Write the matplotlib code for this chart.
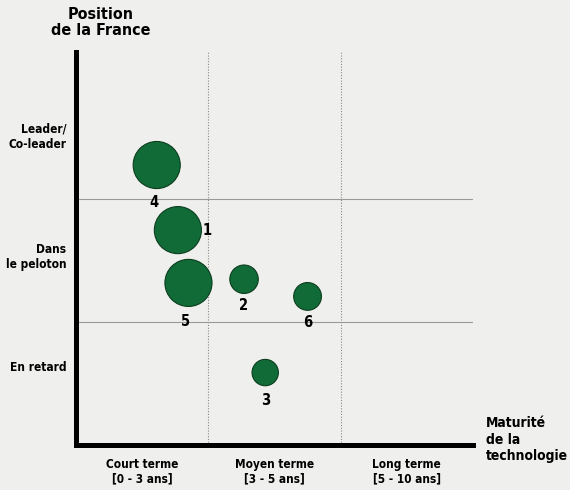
import matplotlib.pyplot as plt

# Données
numeros = ['1', '2', '3', '4', '5', '6']
maturite = [0.77, 1.27, 1.43, 0.61, 0.85, 1.75]
position = [1.75, 1.35, 0.59, 2.28, 1.32, 1.21]
taille = [1150, 420, 360, 1150, 1150, 400]

colonnes = ['Court terme\n[0 - 3 ans]', 'Moyen terme\n[3 - 5 ans]', 'Long terme\n[5 - 10 ans]']
lignes = ['En retard', 'Dans\nle peloton', 'Leader/\nCo-leader']
pos_lignes = [0.64, 1.55, 2.53]

# position des numéros par rapport aux bulles (dx, dy en points)
decalage = {'1': (21, 0), '2': (0, -19), '3': (0, -20), '4': (-2, -27), '5': (-2, -28), '6': (0, -19)}

police = dict(family='DejaVu Sans', fontstretch='condensed', fontweight='bold')
fond = '#efefed'
vert = '#116b36'

fig = plt.figure(figsize=(5.7, 4.9), dpi=100, facecolor=fond)
ax = fig.add_axes([0.1333, 0.0918, 0.6965, 0.802])
ax.set_facecolor(fond)

ax.set_xlim(0, 3)
ax.set_ylim(0, 3.2)

for x in [1, 2]:
    ax.axvline(x, color='#888888', lw=0.8, ls=(0, (1, 1.5)))
for y in [1, 2]:
    ax.axhline(y, color='#999999', lw=0.8)

ax.scatter(maturite, position, s=taille, color=vert, edgecolor='#0b3d1f', lw=0.8, zorder=3)

for n, x, y in zip(numeros, maturite, position):
    dx, dy = decalage[n]
    ax.annotate(n, (x, y), xytext=(dx, dy), textcoords='offset points',
                ha='center', va='center', fontsize=10.5, zorder=4, **police)

for s in ['top', 'right']:
    ax.spines[s].set_visible(False)
for s in ['left', 'bottom']:
    ax.spines[s].set_linewidth(3.6)
    ax.spines[s].set_color('black')

ax.set_xticks([0.5, 1.5, 2.5])
ax.set_xticklabels(colonnes, fontsize=8.5, linespacing=1.2, **police)
ax.set_yticks(pos_lignes)
ax.set_yticklabels(lignes, fontsize=8.6, ha='right', linespacing=1.2, **police)
ax.tick_params(axis='x', length=0, pad=9)
ax.tick_params(axis='y', length=0, pad=7)

fig.text(0.176, 0.985, 'Position\nde la France', ha='center', va='top',
         fontsize=11.5, linespacing=1.05, **police)
fig.text(0.853, 0.103, 'Maturité\nde la\ntechnologie', ha='left', va='center',
         fontsize=10, linespacing=1.2, **police)

fig.savefig('out.png', dpi=100, facecolor=fond)
